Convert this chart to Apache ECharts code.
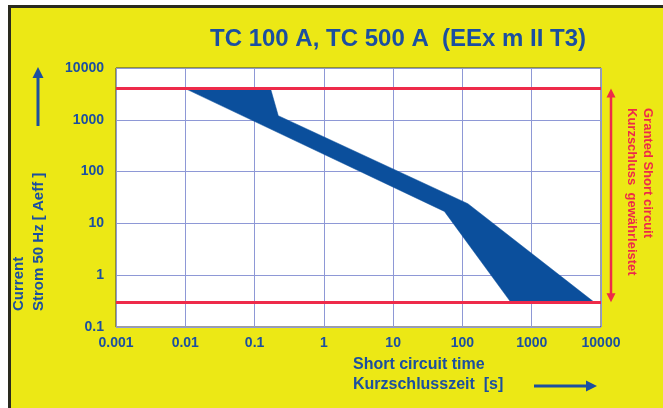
<!DOCTYPE html>
<html>
<head>
<meta charset="utf-8">
<script src="https://cdn.jsdelivr.net/npm/echarts@6/dist/echarts.min.js"></script>
<style>
html, body { margin: 0; padding: 0; background: #fff; }
#frame {
  position: absolute; left: 8px; top: 5px; width: 655px; height: 403px;
  background: #ece815; border-top: 3px solid #2a2a1e; border-left: 3px solid #2a2a1e;
  box-sizing: border-box;
}
#chart { position: absolute; left: 0; top: 0; width: 663px; height: 408px; }
</style>
</head>
<body>
<div id="frame"></div>
<div id="chart"></div>
<script>
// outline of the blue band, clockwise: short circuit time [s] / current [A]
const bandTime = [0.01, 0.17, 0.22, 120, 8000, 500, 55]
const bandCurrent = [4000, 4000, 1200, 24, 0.3, 0.3, 17]
// granted short circuit limits (red lines)
const limitCurrent = [4000, 0.3]
const timeRange = [0.001, 10000]
const currentRange = [0.1, 10000]

const BLUE = '#1b4fa0'
const RED = '#ee2a4a'
const FONT = 'Liberation Sans, Arial, sans-serif'

const fmt = v => v >= 1 ? String(Math.round(v)) : String(+v.toPrecision(1))

const myChart = echarts.init(document.getElementById('chart'))

const option = {
  animation: false,
  title: {
    text: 'TC 100 A, TC 500 A  (EEx m II T3)',
    left: 205,
    top: 22,
    textStyle: { color: BLUE, fontSize: 24, fontWeight: 'bold', fontFamily: FONT }
  },
  grid: {
    left: 116,
    right: 62,
    top: 68,
    bottom: 81,
    show: true,
    backgroundColor: '#fff',
    borderColor: '#3c3c3c',
    borderWidth: 1
  },
  xAxis: {
    type: 'log',
    logBase: 10,
    min: timeRange[0],
    max: timeRange[1],
    axisLine: { show: false },
    axisTick: { show: false },
    splitLine: { show: true, lineStyle: { color: '#8e98d6', width: 1 } },
    axisLabel: {
      margin: 9,
      color: BLUE,
      fontSize: 14,
      fontWeight: 'bold',
      fontFamily: FONT,
      formatter: fmt
    }
  },
  yAxis: {
    type: 'log',
    logBase: 10,
    min: currentRange[0],
    max: currentRange[1],
    axisLine: { show: false },
    axisTick: { show: false },
    splitLine: { show: true, lineStyle: { color: '#8e98d6', width: 1 } },
    axisLabel: {
      margin: 12,
      color: BLUE,
      fontSize: 14,
      fontWeight: 'bold',
      fontFamily: FONT,
      formatter: fmt
    }
  },
  series: [
    {
      type: 'custom',
      silent: true,
      data: bandTime.map((t, i) => [t, bandCurrent[i]]),
      renderItem(params, api) {
        if (params.dataIndex !== 0) return null
        const points = bandTime.map((t, i) => api.coord([t, bandCurrent[i]]))
        return {
          type: 'polygon',
          shape: { points },
          style: { fill: '#0b4f9c', stroke: '#0b4f9c', lineWidth: 0.5 }
        }
      },
      markLine: {
        silent: true,
        symbol: 'none',
        label: { show: false },
        lineStyle: { color: RED, width: 3, type: 'solid' },
        data: limitCurrent.map(v => ({ yAxis: v }))
      }
    }
  ]
}

myChart.setOption(option)

// arrow head polygon, tip at (x, y)
function head(x, y, dir, color, w, h) {
  let pts
  if (dir === 'up') pts = [[x, y], [x - w / 2, y + h], [x + w / 2, y + h]]
  else if (dir === 'down') pts = [[x, y], [x - w / 2, y - h], [x + w / 2, y - h]]
  else pts = [[x, y], [x - h, y - w / 2], [x - h, y + w / 2]]
  return { type: 'polygon', shape: { points: pts }, style: { fill: color }, silent: true }
}
function line(x1, y1, x2, y2, color, width) {
  return { type: 'line', shape: { x1, y1, x2, y2 }, style: { stroke: color, lineWidth: width }, silent: true }
}
function text(str, x, y, rotation, color, size, align) {
  return {
    type: 'text', x, y, rotation, silent: true,
    style: {
      text: str, fill: color, font: 'bold ' + size + 'px ' + FONT,
      align: align || 'left', verticalAlign: 'middle'
    }
  }
}

const yTop = myChart.convertToPixel({ yAxisIndex: 0 }, limitCurrent[0])
const yBot = myChart.convertToPixel({ yAxisIndex: 0 }, limitCurrent[1])
const ax = 611

myChart.setOption({
  graphic: [
    // red double arrow between the limits
    line(ax, yTop + 4, ax, yBot - 4, RED, 2.5),
    head(ax, yTop, 'up', RED, 9, 9),
    head(ax, yBot, 'down', RED, 9, 9),
    text('Granted Short circuit', 648, 108, -Math.PI / 2, RED, 13),
    text('Kurzschluss  gewährleistet', 632, 108, -Math.PI / 2, RED, 13),
    // y axis name + arrow
    text('Current', 19, 311, Math.PI / 2, BLUE, 15),
    text('Strom 50 Hz [ Aeff ]', 39, 311, Math.PI / 2, BLUE, 15),
    line(38, 126, 38, 76, BLUE, 3),
    head(38, 67, 'up', BLUE, 11, 11),
    // x axis name + arrow
    text('Short circuit time', 353, 365, 0, BLUE, 16),
    text('Kurzschlusszeit  [s]', 353, 385, 0, BLUE, 16),
    line(534, 386, 588, 386, BLUE, 3),
    head(597, 386, 'right', BLUE, 11, 11)
  ]
})

window.addEventListener('resize', () => myChart.resize())
</script>
</body>
</html>
